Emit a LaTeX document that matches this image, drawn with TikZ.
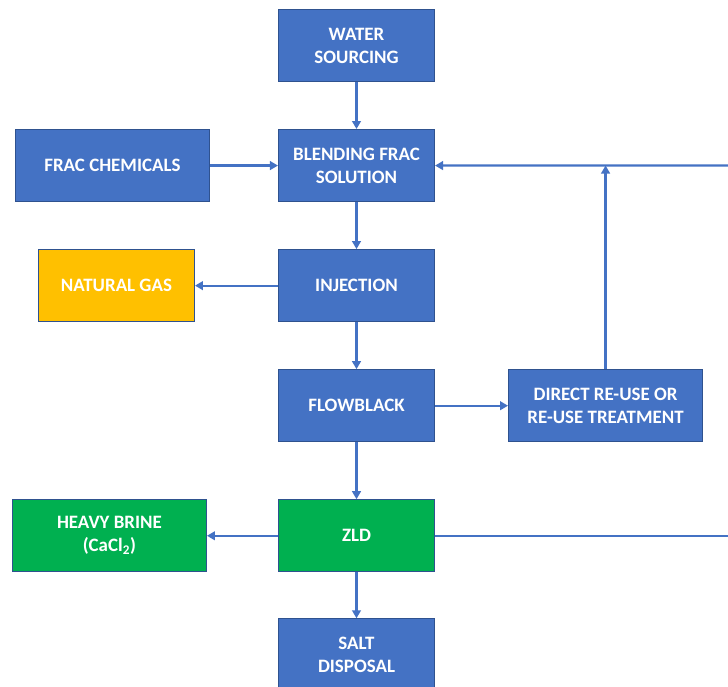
\documentclass[tikz,border=0pt]{standalone}
\usepackage{fontspec}
\setmainfont{Carlito}
\usepackage{tikz}
\usetikzlibrary{positioning,arrows.meta}
\definecolor{boxblue}{HTML}{4472C4}
\definecolor{boxline}{HTML}{2F528F}
\definecolor{boxgreen}{HTML}{00B050}
\definecolor{boxgold}{HTML}{FFC000}
\tikzset{stepbox/.style={draw=boxline,line width=0.8pt,fill=boxblue,text=white,
	font=\fontsize{14.2}{17.25}\selectfont\bfseries,align=center,
	minimum width=117pt,minimum height=54pt,inner sep=2pt},
	widebox/.style={stepbox,minimum width=145.5pt},
	flow/.style={draw=boxblue,line width=1.7pt,-{Triangle[length=6pt,width=6.5pt]}},
	plain/.style={draw=boxblue,line width=1.7pt},
	node distance=35.25pt}

\begin{document}
\begin{tikzpicture}[x=0.75pt,y=-0.75pt]
\useasboundingbox[fill=white] (0,0) rectangle (728,686);
\node [stepbox] (water) at (356.5,45.5) {WATER\\SOURCING};
\node [stepbox,below=of water] (blend) {BLENDING FRAC\\SOLUTION};
\node [widebox,left=51pt of blend] (chem) {FRAC CHEMICALS};
\node [stepbox,below=of blend] (inject) {INJECTION};
\node [stepbox,fill=boxgold,left=62.25pt of inject] (gas) {NATURAL GAS};
\node [stepbox,below=of inject] (flowback) {FLOWBLACK};
\node [widebox,right=54.75pt of flowback] (reuse) {DIRECT RE-USE OR\\RE-USE TREATMENT};
\node [stepbox,fill=boxgreen,below=42.75pt of flowback] (zld) {ZLD};
\node [widebox,fill=boxgreen,left=53.25pt of zld] (brine) {HEAVY BRINE\\(CaCl\textsubscript{2})};
\node [stepbox,below=34.5pt of zld] (salt) {SALT\\DISPOSAL};
\coordinate (topedge) at (728,165.5);
\coordinate (lowedge) at (zld.east -| topedge);
\path[clip] (0,0) rectangle (728,686);
\draw [flow] (water) -- (blend);
\draw [flow] (chem) -- (blend);
\draw [flow] (blend) -- (inject);
\draw [flow] (inject) -- (gas);
\draw [flow] (inject) -- (flowback);
\draw [flow] (flowback) -- (reuse);
\draw [flow] (flowback) -- (zld);
\draw [flow] (zld) -- (brine);
\draw [flow] (zld) -- (salt);
\draw [flow] (topedge) -- (blend.east);
\draw [flow] (reuse.north) -- (reuse.north |- topedge);
\draw [plain] (zld.east) -- (lowedge);
\end{tikzpicture}
\end{document}
